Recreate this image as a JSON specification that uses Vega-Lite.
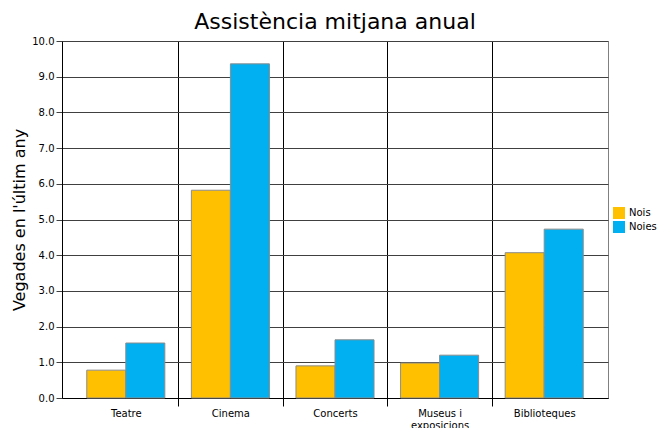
{
  "$schema": "https://vega.github.io/schema/vega-lite/v6.json",
  "width": 546,
  "height": 357,
  "autosize": "none",
  "padding": {"left": 62, "top": 41, "right": 52, "bottom": 30},
  "background": "white",
  "title": {"text": "Assistència mitjana anual", "fontSize": 22, "font": "DejaVu Sans", "fontWeight": "normal", "color": "black", "offset": 2, "anchor": "middle"},
  "config": {"font": "DejaVu Sans", "view": {"stroke": "#808080", "strokeWidth": 1}},
  "data": {"values": [
    {"activitat": "Teatre", "genere": "Nois", "valor": 0.78},
    {"activitat": "Teatre", "genere": "Noies", "valor": 1.54},
    {"activitat": "Cinema", "genere": "Nois", "valor": 5.82},
    {"activitat": "Cinema", "genere": "Noies", "valor": 9.36},
    {"activitat": "Concerts", "genere": "Nois", "valor": 0.9},
    {"activitat": "Concerts", "genere": "Noies", "valor": 1.63},
    {"activitat": "Museus i exposicions", "genere": "Nois", "valor": 0.98},
    {"activitat": "Museus i exposicions", "genere": "Noies", "valor": 1.2},
    {"activitat": "Biblioteques", "genere": "Nois", "valor": 4.07},
    {"activitat": "Biblioteques", "genere": "Noies", "valor": 4.73}
  ]},
  "mark": {"type": "bar", "stroke": "#8c8c8c", "strokeWidth": 1},
  "encoding": {
    "x": {
      "field": "activitat", "type": "nominal",
      "sort": ["Teatre", "Cinema", "Concerts", "Museus i exposicions", "Biblioteques"],
      "scale": {"paddingInner": 0, "paddingOuter": 0.11},
      "axis": {
        "title": null, "labelAngle": 0, "labelFontSize": 10, "labelColor": "black",
        "labelExpr": "datum.label == 'Museus i exposicions' ? ['Museus i', 'exposicions'] : datum.label",
        "tickBand": "extent",
        "grid": true, "gridColor": "black",
        "gridOpacity": {"condition": {"test": "datum.value == 'Biblioteques' || datum.extra", "value": 0}, "value": 1},
        "tickOpacity": {"condition": {"test": "datum.value == 'Biblioteques' || datum.extra", "value": 0}, "value": 1},
        "tickColor": "black", "tickSize": 8, "domainColor": "black", "labelPadding": 2
      }
    },
    "xOffset": {"field": "genere", "type": "nominal", "sort": ["Nois", "Noies"], "scale": {"paddingInner": 0, "paddingOuter": 0.34}},
    "y": {
      "field": "valor", "type": "quantitative",
      "scale": {"domain": [0, 10]},
      "axis": {
        "title": "Vegades en l'últim any", "titleFontSize": 16, "titleFontWeight": "normal", "titleColor": "black",
        "format": ".1f", "values": [0, 1, 2, 3, 4, 5, 6, 7, 8, 9, 10],
        "labelFontSize": 10, "labelColor": "black",
        "gridColor": "#404040", "gridOpacity": 1, "tickColor": "#404040", "domainColor": "black",
        "tickSize": 6, "labelPadding": 2
      }
    },
    "color": {
      "field": "genere", "type": "nominal",
      "scale": {"domain": ["Nois", "Noies"], "range": ["#FFC000", "#00B0F0"]},
      "legend": {"title": null, "orient": "none", "legendX": 551, "legendY": 166, "symbolType": "square", "symbolSize": 144, "labelFontSize": 10, "labelColor": "black", "symbolStrokeWidth": 0, "symbolOpacity": 1}
    }
  }
}
